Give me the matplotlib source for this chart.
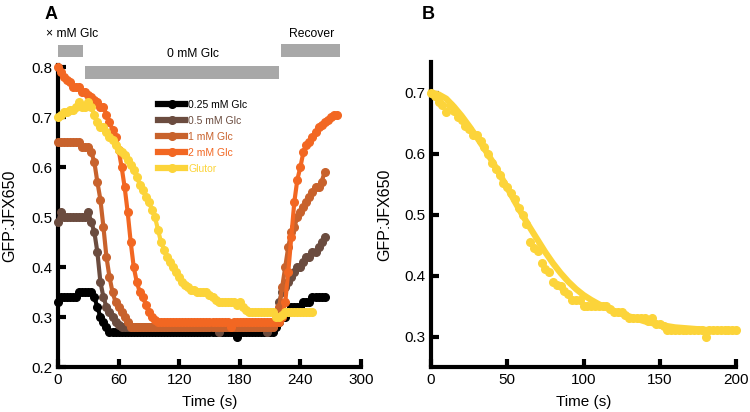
import numpy as np
import matplotlib.pyplot as plt

plt.rcParams['font.family'] = ['Liberation Sans', 'DejaVu Sans']

# ---- panel A data (GFP:JFX650 ratio, sampled every 3 s) ----
labels = ["0.25 mM Glc", "0.5 mM Glc", "1 mM Glc", "2 mM Glc", "Glutor"]
colors = ["#000000", "#6b4c3f", "#c8622c", "#f26722", "#fcd43a"]

t_short = np.arange(0, 265, 3)   # 0 .. 264
t_long = np.arange(0, 277, 3)    # 0 .. 276
t_glut = np.arange(0, 253, 3)    # 0 .. 252

glc_025 = ([0.33] + [0.34] * 6 + [0.35] * 5
           + [0.34, 0.32, 0.30, 0.29, 0.28, 0.27]
           + [0.27] * 41 + [0.26] + [0.27] * 12
           + [0.28, 0.29, 0.30, 0.30, 0.31, 0.32, 0.32, 0.32, 0.32,
              0.33, 0.33, 0.33, 0.34, 0.34, 0.34, 0.34, 0.34])

glc_05 = ([0.49, 0.51] + [0.50] * 7
          + [0.50, 0.51, 0.49, 0.47, 0.43, 0.37, 0.34, 0.32, 0.31,
             0.30, 0.29, 0.285, 0.28]
          + [0.28] * 31 + [0.27] + [0.28] * 15 + [0.27, 0.28, 0.28]
          + [0.30, 0.33, 0.35, 0.36, 0.37, 0.38, 0.39, 0.40, 0.40,
             0.41, 0.42, 0.42, 0.43, 0.43, 0.44, 0.45, 0.46])

glc_1 = ([0.65] * 8
         + [0.64, 0.64, 0.64, 0.63, 0.61, 0.57, 0.535, 0.48, 0.42,
            0.38, 0.35, 0.33, 0.32, 0.31, 0.30, 0.29]
         + [0.28] * 48
         + [0.29, 0.32, 0.36, 0.40, 0.44, 0.47, 0.48, 0.50, 0.51,
            0.52, 0.53, 0.54, 0.55, 0.56, 0.56, 0.57, 0.59])

glc_2 = ([0.80, 0.79, 0.78, 0.775, 0.77, 0.76, 0.76, 0.76, 0.75, 0.75,
          0.745, 0.74, 0.735, 0.73, 0.72, 0.72, 0.705, 0.69, 0.675, 0.66,
          0.635, 0.60, 0.56, 0.51, 0.45, 0.40, 0.37, 0.35, 0.34, 0.325,
          0.31, 0.30, 0.295, 0.29]
         + [0.29] * 23 + [0.28] + [0.29] * 14
         + [0.29, 0.29, 0.30, 0.33, 0.39, 0.46, 0.53, 0.575, 0.60, 0.63,
            0.645, 0.65, 0.66, 0.67, 0.68, 0.685, 0.69, 0.695, 0.70,
            0.705, 0.705])

glutor = ([0.70, 0.705, 0.71, 0.71, 0.715, 0.715, 0.72, 0.73, 0.72, 0.72,
           0.73, 0.72, 0.705, 0.69, 0.68, 0.68, 0.67, 0.66, 0.655, 0.645,
           0.635, 0.63, 0.625, 0.615, 0.605, 0.595, 0.58, 0.565, 0.555,
           0.54, 0.53, 0.515, 0.50, 0.475, 0.45, 0.435, 0.42, 0.41, 0.40,
           0.39, 0.38, 0.37, 0.365, 0.36, 0.355, 0.355, 0.35, 0.35, 0.35,
           0.35, 0.345, 0.34, 0.335, 0.33, 0.33, 0.33, 0.33, 0.33, 0.33,
           0.325, 0.33, 0.32, 0.315]
          + [0.31] * 9 + [0.30, 0.30, 0.305] + [0.31] * 10)

series = [(t_short, glc_025), (t_short, glc_05), (t_short, glc_1),
          (t_long, glc_2), (t_glut, glutor)]

# protocol bars above panel A
bar_start = [0, 27, 221]
bar_end = [25, 219, 279]
bar_lo = [0.82, 0.777, 0.82]
bar_hi = [0.845, 0.802, 0.847]
bar_text = ["× mM Glc", "0 mM Glc", "Recover"]
bar_text_x = [14, 134, 251]
bar_text_y = [0.866, 0.826, 0.866]

# ---- panel B data (Glutor decay and fit) ----
tb = np.arange(0, 201, 2.5)
glutor_b = ([0.700, 0.695, 0.685, 0.68, 0.668, 0.68, 0.67, 0.66, 0.655,
             0.645, 0.64, 0.63, 0.63, 0.62, 0.61, 0.60, 0.585, 0.575,
             0.565, 0.552, 0.545, 0.535, 0.525, 0.51, 0.50, 0.485, 0.455,
             0.445, 0.44, 0.42, 0.41, 0.405, 0.39, 0.385, 0.383, 0.375,
             0.37, 0.36, 0.36, 0.36, 0.35, 0.35, 0.35, 0.35, 0.35, 0.35,
             0.35, 0.345, 0.34, 0.34, 0.34, 0.335, 0.33, 0.33, 0.33, 0.33,
             0.33, 0.325, 0.33, 0.32, 0.32, 0.318, 0.31, 0.31]
            + [0.31] * 8 + [0.30] + [0.31] * 8)
t_fit = np.arange(0, 201, 5)
fit_b = [0.700, 0.697, 0.690, 0.677, 0.662, 0.645, 0.627, 0.608, 0.588,
         0.566, 0.544, 0.521, 0.499, 0.478, 0.458, 0.438, 0.420, 0.404,
         0.390, 0.378, 0.368, 0.360, 0.353, 0.347, 0.342, 0.337, 0.333,
         0.329, 0.325, 0.322, 0.319, 0.317, 0.315, 0.314, 0.313, 0.312,
         0.311, 0.310, 0.310, 0.309, 0.309]

fig = plt.figure(figsize=(7.5, 4.12), dpi=100)
axA = fig.add_axes([0.0773, 0.1092, 0.404, 0.734])
axB = fig.add_axes([0.5747, 0.1092, 0.4067, 0.740])


def style(ax, ypad):
    for s in ["top", "right"]:
        ax.spines[s].set_visible(False)
    for s in ["left", "bottom"]:
        ax.spines[s].set_linewidth(3)
    ax.tick_params(direction="in", length=5.5, width=3, labelsize=11, pad=4)
    ax.set_xlabel("Time (s)", fontsize=11, labelpad=6)
    ax.set_ylabel("GFP:JFX650", fontsize=11.5, labelpad=ypad)


# panel A
for (t, v), c, lab in zip(series, colors, labels):
    axA.plot(t, v, "-o", color=c, lw=3, ms=5.5, mec=c, label=lab,
             clip_on=False, zorder=3)
axA.set_xlim(0, 300)
axA.set_ylim(0.2, 0.805)
axA.set_xticks([0, 60, 120, 180, 240, 300])
axA.set_yticks([0.2, 0.3, 0.4, 0.5, 0.6, 0.7, 0.8])
axA.set_yticklabels(["0.2", "0.3", "0.4", "0.5", "0.6", "0.7", "0.8"])
style(axA, 10)

for s, e, lo, hi in zip(bar_start, bar_end, bar_lo, bar_hi):
    axA.fill_between([s, e], lo, hi, color="#a8a8a8", lw=0, clip_on=False)
for x, y, txt in zip(bar_text_x, bar_text_y, bar_text):
    axA.text(x, y, txt, ha="center", va="center", fontsize=8.7)

leg = axA.legend(loc="upper left", bbox_to_anchor=(0.30, 0.915), frameon=False,
                 fontsize=7.5, handlelength=2.6, handletextpad=0.3,
                 labelspacing=0.58, labelcolor="linecolor", numpoints=1)
for h in leg.legend_handles:
    h.set_linewidth(4.5)

fig.text(0.06, 0.965, "A", fontsize=13, fontweight="bold", ha="left", va="center")

# panel B
axB.plot(t_fit, fit_b, "-", color=colors[4], lw=4.5, zorder=2, clip_on=False)
axB.plot(tb, glutor_b, "o", color=colors[4], ms=5.5, zorder=3, clip_on=False)
axB.set_xlim(0, 200)
axB.set_ylim(0.25, 0.75)
axB.set_xticks([0, 50, 100, 150, 200])
axB.set_yticks([0.3, 0.4, 0.5, 0.6, 0.7])
axB.set_yticklabels(["0.3", "0.4", "0.5", "0.6", "0.7"])
style(axB, 9)

fig.text(0.563, 0.965, "B", fontsize=13, fontweight="bold", ha="left", va="center")

fig.savefig("out.png", dpi=100)
